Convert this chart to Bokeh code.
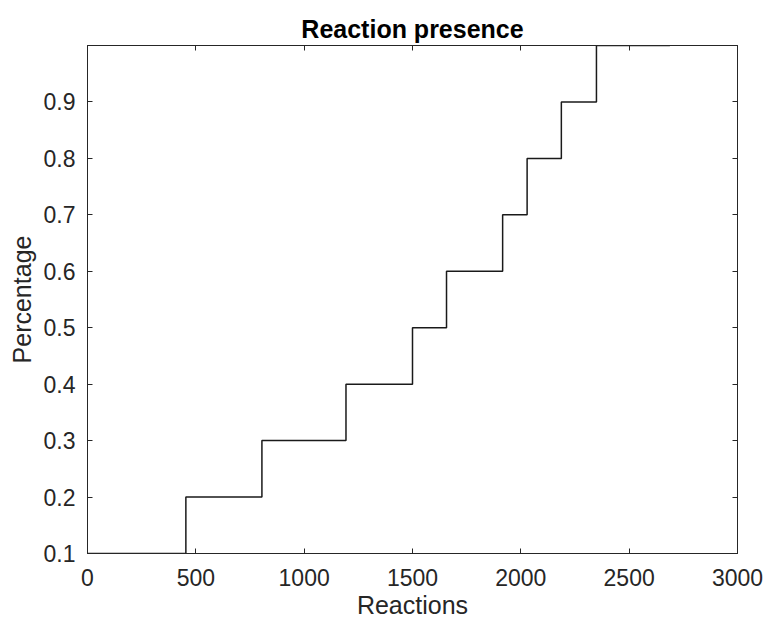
from bokeh.plotting import figure
from bokeh.models import Range1d, LinearAxis, FixedTicker, CustomJSTickFormatter
from bokeh.embed import file_html
from bokeh.resources import INLINE

# Data (stairs: value y[i] holds from x[i] to x[i+1])
reactions = [0, 454, 805, 1193, 1500, 1657, 1916, 2029, 2187, 2349, 2688]
percentage = [0.1, 0.2, 0.3, 0.4, 0.5, 0.6, 0.7, 0.8, 0.9, 1.0, 1.0]
x_ticks = [0, 500, 1000, 1500, 2000, 2500, 3000]
y_ticks = [0.1, 0.2, 0.3, 0.4, 0.5, 0.6, 0.7, 0.8, 0.9]

FONT = "Liberation Sans"
AX = "#262626"

p = figure(width=764, height=624, output_backend="svg", toolbar_location=None,
           x_range=Range1d(0, 3000), y_range=Range1d(0.1, 1.0),
           min_border_left=87, min_border_right=27, min_border_top=45, min_border_bottom=71)

p.title.text = "Reaction presence"
p.title.align = "center"
p.title.text_font = FONT
p.title.text_font_size = "25px"
p.title.text_font_style = "bold"
p.title.text_color = "#000000"
p.title.offset = 0
p.title.standoff = 6

p.grid.visible = False
p.outline_line_color = AX
p.outline_line_width = 1

p.step(reactions, percentage, mode="after", line_color="#1a1a1a", line_width=1.5)

for ax in (p.xaxis[0], p.yaxis[0]):
    ax.major_tick_in = 5
    ax.major_tick_out = 0
    ax.minor_tick_in = 0
    ax.minor_tick_out = 0
    ax.axis_line_color = AX
    ax.major_tick_line_color = AX
    ax.major_label_text_font = FONT
    ax.major_label_text_font_size = "23px"
    ax.major_label_text_color = AX
    ax.axis_label_text_font = FONT
    ax.axis_label_text_font_size = "25px"
    ax.axis_label_text_font_style = "normal"
    ax.axis_label_text_color = AX

p.xaxis[0].ticker = FixedTicker(ticks=x_ticks)
p.yaxis[0].ticker = FixedTicker(ticks=y_ticks)
p.xaxis[0].axis_label = "Reactions"
p.yaxis[0].axis_label = "Percentage"
p.xaxis[0].major_label_standoff = 15
p.yaxis[0].major_label_standoff = 12
p.xaxis[0].axis_label_standoff = 2
p.yaxis[0].axis_label_standoff = 5

blank = CustomJSTickFormatter(code="return '';")
top = LinearAxis(ticker=FixedTicker(ticks=x_ticks), formatter=blank)
right = LinearAxis(ticker=FixedTicker(ticks=y_ticks), formatter=blank)
for ax in (top, right):
    ax.major_tick_in = 5
    ax.major_tick_out = 0
    ax.minor_tick_in = 0
    ax.minor_tick_out = 0
    ax.axis_line_color = AX
    ax.major_tick_line_color = AX
    ax.major_label_standoff = 0
p.add_layout(top, "above")
p.add_layout(right, "right")

open("out.html", "w").write(file_html(p, INLINE))
